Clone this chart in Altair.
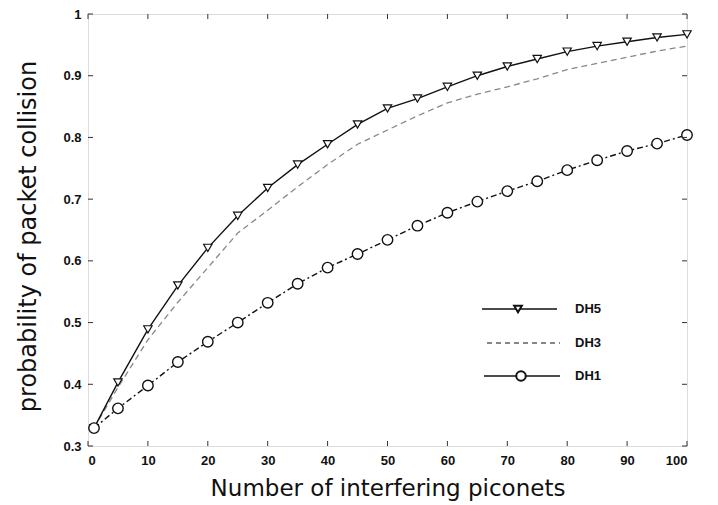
import altair as alt
import pandas as pd

x_vals = [1, 5, 10, 15, 20, 25, 30, 35, 40, 45, 50, 55, 60, 65, 70, 75, 80, 85, 90, 95, 100]
dh5 = [0.329, 0.403, 0.489, 0.560, 0.621, 0.673, 0.718, 0.756, 0.789, 0.821, 0.847, 0.863,
       0.882, 0.900, 0.915, 0.927, 0.939, 0.948, 0.955, 0.962, 0.967]
dh3 = [0.329, 0.395, 0.472, 0.533, 0.589, 0.645, 0.682, 0.720, 0.756, 0.789, 0.812, 0.835,
       0.856, 0.870, 0.882, 0.895, 0.910, 0.920, 0.930, 0.940, 0.948]
dh1 = [0.329, 0.361, 0.398, 0.436, 0.469, 0.500, 0.532, 0.563, 0.589, 0.611, 0.634, 0.657,
       0.678, 0.696, 0.713, 0.729, 0.747, 0.763, 0.778, 0.790, 0.804]
x_ticks = [0, 10, 20, 30, 40, 50, 60, 70, 80, 90, 100]
y_ticks = [0.3, 0.4, 0.5, 0.6, 0.7, 0.8, 0.9, 1.0]

df5 = pd.DataFrame({"x": x_vals, "y": dh5})
df3 = pd.DataFrame({"x": x_vals, "y": dh3})
df1 = pd.DataFrame({"x": x_vals, "y": dh1})
dfxt = pd.DataFrame({"x": x_ticks})
dfyt = pd.DataFrame({"y": y_ticks})

W, H = 599, 432
xs = alt.Scale(domain=[0, 100], nice=False)
ys = alt.Scale(domain=[0.3, 1.0], nice=False)

lab = dict(labelFont="Liberation Sans", labelFontWeight="bold", labelFontSize=13,
           labelColor="#111", titleFont="DejaVu Sans", titleFontWeight="normal",
           titleColor="#111", grid=False, domain=False, ticks=False)

xax = alt.Axis(values=x_ticks, title="Number of interfering piconets", labelPadding=8,
               titlePadding=10, titleFontSize=23, format="d", **lab)
yax = alt.Axis(values=y_ticks, title="probability of packet collision", labelPadding=7,
               titlePadding=22, titleFontSize=24, titleY=222,
               labelExpr="datum.value == 1 ? '1' : format(datum.value, '.1f')", **lab)

X = alt.X("x:Q", scale=xs, axis=xax)
Y = alt.Y("y:Q", scale=ys, axis=yax)

l5 = alt.Chart(df5).mark_line(color="#111", strokeWidth=1.4).encode(x=X, y=Y)
p5 = alt.Chart(df5).mark_point(shape="triangle-down", size=70, filled=True, fill="white",
                               stroke="#111", strokeWidth=1.2, opacity=1).encode(x=X, y=Y)
l3 = alt.Chart(df3).mark_line(color="#888", strokeWidth=1.3, strokeDash=[6, 4]).encode(x=X, y=Y)
l1 = alt.Chart(df1).mark_line(color="#111", strokeWidth=1.4, strokeDash=[6, 3, 2, 3]).encode(x=X, y=Y)
p1 = alt.Chart(df1).mark_point(shape="circle", size=110, filled=True, fill="white",
                               stroke="#111", strokeWidth=1.4, opacity=1).encode(x=X, y=Y)

# inward tick marks on all four sides
tk = dict(color="#333", strokeWidth=1)
ticks = [
    alt.Chart(dfxt).mark_rule(**tk).encode(x=alt.X("x:Q", scale=xs), y=alt.value(H), y2=alt.value(H - 5)),
    alt.Chart(dfxt).mark_rule(**tk).encode(x=alt.X("x:Q", scale=xs), y=alt.value(0), y2=alt.value(5)),
    alt.Chart(dfyt).mark_rule(**tk).encode(y=alt.Y("y:Q", scale=ys), x=alt.value(0), x2=alt.value(5)),
    alt.Chart(dfyt).mark_rule(**tk).encode(y=alt.Y("y:Q", scale=ys), x=alt.value(W - 5), x2=alt.value(W)),
]

one = alt.Data(values=[{"a": 1}])
leg_font = dict(font="Liberation Sans", fontWeight="bold", fontSize=13, color="#111",
                align="left", baseline="middle")
legend = [
    alt.Chart(one).mark_rule(color="#111", strokeWidth=1.3).encode(
        x=alt.value(394), x2=alt.value(469), y=alt.value(295)),
    alt.Chart(one).mark_point(shape="triangle-down", size=60, filled=True, fill="white",
                              stroke="#111", opacity=1).encode(x=alt.value(430), y=alt.value(295)),
    alt.Chart(one).mark_text(text="DH5", **leg_font).encode(x=alt.value(487), y=alt.value(295)),
    alt.Chart(one).mark_rule(color="#111", strokeWidth=1.2, strokeDash=[5, 4]).encode(
        x=alt.value(399), x2=alt.value(472), y=alt.value(329)),
    alt.Chart(one).mark_text(text="DH3", **leg_font).encode(x=alt.value(487), y=alt.value(329)),
    alt.Chart(one).mark_rule(color="#111", strokeWidth=1.3).encode(
        x=alt.value(396), x2=alt.value(472), y=alt.value(362)),
    alt.Chart(one).mark_point(shape="circle", size=90, filled=True, fill="white",
                              stroke="#111", opacity=1).encode(x=alt.value(433), y=alt.value(362)),
    alt.Chart(one).mark_text(text="DH1", **leg_font).encode(x=alt.value(487), y=alt.value(362)),
]

chart = alt.layer(l3, l5, p5, l1, p1, *ticks, *legend).properties(
    width=W, height=H, autosize="none",
    padding={"left": 80, "top": 6, "right": 23, "bottom": 59},
).configure_view(stroke="#000", strokeWidth=3).configure(background="white")

chart.save("out.html", embed_options={"renderer": "svg", "actions": False})
